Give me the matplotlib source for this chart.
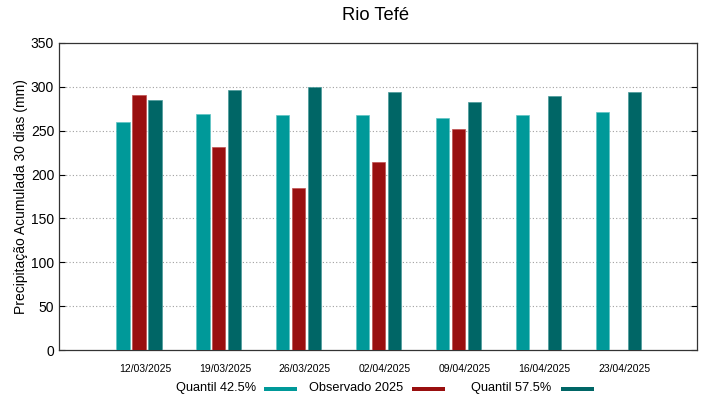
import matplotlib
matplotlib.use("Agg")
import matplotlib.pyplot as plt
from matplotlib.patches import Rectangle
from matplotlib.transforms import ScaledTranslation
import numpy as np

plt.rcParams['font.family'] = ['Liberation Sans', 'DejaVu Sans']

dates = ["12/03/2025", "19/03/2025", "26/03/2025", "02/04/2025", "09/04/2025", "16/04/2025", "23/04/2025"]
q425 = [260, 269, 268, 268, 264, 268, 271]
obs = [291, 232, 185, 214, 252, np.nan, np.nan]
q575 = [285, 296, 300, 294, 283, 290, 294]
series_labels = ["Quantil 42.5%", "Observado 2025", "Quantil 57.5%"]

c1, c2, c3 = "#009999", "#990f0f", "#006666"

W, H = 719, 399
fig = plt.figure(figsize=(W/100, H/100), dpi=100)
ax = fig.add_axes([59/W, 49/H, 638/W, 307/H])

x = np.arange(len(dates))
w = 0.165
ax.bar(x - 0.2, q425, w, color=c1, edgecolor="#5fc4c4", linewidth=0.5, zorder=3)
ax.bar(x, obs, w, color=c2, edgecolor="#c05050", linewidth=0.5, zorder=3)
ax.bar(x + 0.2, q575, w, color=c3, edgecolor="#4a9a9a", linewidth=0.5, zorder=3)

ax.set_xlim(-1, 6.98)
ax.set_ylim(0, 350)
ax.set_yticks(np.arange(0, 351, 50))
ax.set_xticks(x)
ax.set_xticklabels(dates, fontsize=7.5)
ax.tick_params(axis='y', labelsize=10, direction='in', length=4, right=True, width=0.8)
ax.tick_params(axis='x', direction='in', length=0, pad=10)
for lab in ax.get_xticklabels():
    lab.set_transform(lab.get_transform() + ScaledTranslation(6/100, 0, fig.dpi_scale_trans))
for yv in range(50, 301, 50):
    ax.axhline(yv, color="#a0a0a0", linestyle=(0, (1, 2)), linewidth=0.8, zorder=1)
for s in ax.spines.values():
    s.set_linewidth(0.9)
    s.set_color("#333333")

ax.set_ylabel("Precipitação Acumulada 30 dias (mm)", fontsize=10, labelpad=2)
fig.text(376/W, 1 - 15/H, "Rio Tefé", ha='center', va='center', fontsize=13.2)

# legend (gnuplot style: text then swatch)
text_right = [256, 403, 551]
sw_left = [264, 412, 561]
for lab, tr, sl, col in zip(series_labels, text_right, sw_left, [c1, c2, c3]):
    fig.text(tr/W, 1 - 388/H, lab, ha='right', va='center', fontsize=9.2)
    fig.patches.append(Rectangle((sl/W, 1 - 391/H), 33/W, 4.5/H, transform=fig.transFigure,
                                 facecolor=col, edgecolor='none'))

fig.savefig("out.png", dpi=100)
